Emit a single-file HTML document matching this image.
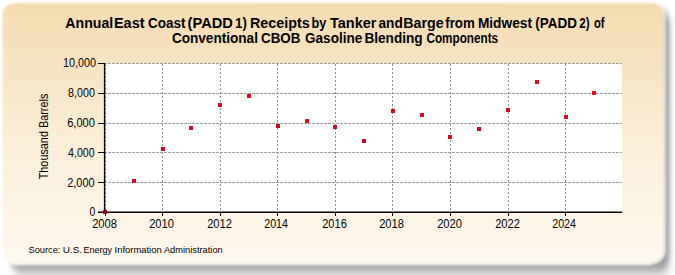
<!DOCTYPE html>
<html><head><meta charset="utf-8"><style>
html,body{margin:0;padding:0;background:#fff;width:675px;height:275px;overflow:hidden}
svg{display:block}
text{font-family:"Liberation Sans",sans-serif;fill:#000}
.g{stroke:#9c9c9c;stroke-width:1;stroke-dasharray:3 1;fill:none}
.gv{stroke:#8c8c8c;stroke-width:1;stroke-dasharray:2 2;fill:none}
.ax{stroke:#000}
.tk{stroke:#000;stroke-width:1}
.pt{fill:#d40a1e}
.title{fill:#000}
.src{fill:#000}
.yl,.xl{fill:#000}
</style></head><body>
<svg width="675" height="275" viewBox="0 0 675 275">
<defs>
<linearGradient id="bg" x1="0" y1="0" x2="0" y2="1">
<stop offset="0" stop-color="#f5dbb0"/>
<stop offset="0.373" stop-color="#f8e8cb"/>
<stop offset="0.566" stop-color="#fbefd9"/>
<stop offset="0.913" stop-color="#fef6ea"/>
<stop offset="1" stop-color="#fef8ee"/>
</linearGradient>
<filter id="sa" filterUnits="userSpaceOnUse" x="0" y="0" width="675" height="275"><feGaussianBlur stdDeviation="2.5 4"/></filter>
<filter id="sb" filterUnits="userSpaceOnUse" x="0" y="0" width="675" height="275"><feGaussianBlur stdDeviation="3"/></filter>
<filter id="gl" filterUnits="userSpaceOnUse" x="0" y="0" width="675" height="275"><feGaussianBlur stdDeviation="1.5"/></filter>
<filter id="bb" filterUnits="userSpaceOnUse" x="0" y="0" width="675" height="275"><feGaussianBlur stdDeviation="1.1"/></filter>
</defs>
<rect x="12" y="16" width="658" height="262" rx="12" fill="#e2e2e2" filter="url(#sb)"/>
<rect x="11" y="9" width="658" height="261" rx="12" fill="#989898" filter="url(#sa)"/>
<rect x="3" y="3.5" width="661" height="259" rx="12" fill="none" stroke="#fff" stroke-width="2.5" filter="url(#gl)"/>
<rect x="12" y="260.5" width="640" height="4.5" fill="#fff" opacity="0.8" filter="url(#gl)"/>
<rect x="2.5" y="3.2" width="661.5" height="259.3" rx="12" fill="url(#bg)" filter="url(#bb)"/>
<rect x="105" y="63" width="517" height="149" fill="#fff"/>
<text x="0" y="0" font-size="12" text-anchor="middle" textLength="85.6" lengthAdjust="spacingAndGlyphs" transform="translate(48,136.5) rotate(-90)">Thousand Barrels</text>
<line x1="104" y1="63.5" x2="622" y2="63.5" class="g"/>
<line x1="104" y1="93.5" x2="622" y2="93.5" class="g"/>
<line x1="104" y1="123.5" x2="622" y2="123.5" class="g"/>
<line x1="104" y1="152.5" x2="622" y2="152.5" class="g"/>
<line x1="104" y1="182.5" x2="622" y2="182.5" class="g"/>
<line x1="105.5" y1="64" x2="105.5" y2="212" class="gv"/>
<line x1="162.5" y1="64" x2="162.5" y2="212" class="gv"/>
<line x1="220.5" y1="64" x2="220.5" y2="212" class="gv"/>
<line x1="277.5" y1="64" x2="277.5" y2="212" class="gv"/>
<line x1="335.5" y1="64" x2="335.5" y2="212" class="gv"/>
<line x1="392.5" y1="64" x2="392.5" y2="212" class="gv"/>
<line x1="450.5" y1="64" x2="450.5" y2="212" class="gv"/>
<line x1="508.5" y1="64" x2="508.5" y2="212" class="gv"/>
<line x1="565.5" y1="64" x2="565.5" y2="212" class="gv"/>
<rect x="103" y="210" width="4" height="4" class="pt"/>
<rect x="132" y="179" width="4" height="4" class="pt"/>
<rect x="161" y="147" width="4" height="4" class="pt"/>
<rect x="189" y="126" width="4" height="4" class="pt"/>
<rect x="218" y="103" width="4" height="4" class="pt"/>
<rect x="247" y="94" width="4" height="4" class="pt"/>
<rect x="276" y="124" width="4" height="4" class="pt"/>
<rect x="305" y="119" width="4" height="4" class="pt"/>
<rect x="333" y="125" width="4" height="4" class="pt"/>
<rect x="362" y="139" width="4" height="4" class="pt"/>
<rect x="391" y="109" width="4" height="4" class="pt"/>
<rect x="420" y="113" width="4" height="4" class="pt"/>
<rect x="448" y="135" width="4" height="4" class="pt"/>
<rect x="477" y="127" width="4" height="4" class="pt"/>
<rect x="506" y="108" width="4" height="4" class="pt"/>
<rect x="535" y="80" width="4" height="4" class="pt"/>
<rect x="564" y="115" width="4" height="4" class="pt"/>
<rect x="592" y="91" width="4" height="4" class="pt"/>
<line x1="104.6" y1="63" x2="104.6" y2="213" class="ax" stroke-width="1.4"/>
<line x1="104" y1="212.2" x2="622" y2="212.2" class="ax" stroke-width="1.5"/>
<line x1="98" y1="63.5" x2="104" y2="63.5" class="tk"/>
<line x1="98" y1="93.5" x2="104" y2="93.5" class="tk"/>
<line x1="98" y1="123.5" x2="104" y2="123.5" class="tk"/>
<line x1="98" y1="152.5" x2="104" y2="152.5" class="tk"/>
<line x1="98" y1="182.5" x2="104" y2="182.5" class="tk"/>
<line x1="98" y1="212.2" x2="104" y2="212.2" class="tk" style="stroke-width:1.5"/>
<line x1="105.5" y1="212" x2="105.5" y2="216" class="tk"/>
<line x1="162.5" y1="212" x2="162.5" y2="216" class="tk"/>
<line x1="220.5" y1="212" x2="220.5" y2="216" class="tk"/>
<line x1="277.5" y1="212" x2="277.5" y2="216" class="tk"/>
<line x1="335.5" y1="212" x2="335.5" y2="216" class="tk"/>
<line x1="392.5" y1="212" x2="392.5" y2="216" class="tk"/>
<line x1="450.5" y1="212" x2="450.5" y2="216" class="tk"/>
<line x1="508.5" y1="212" x2="508.5" y2="216" class="tk"/>
<line x1="565.5" y1="212" x2="565.5" y2="216" class="tk"/>
<rect x="103" y="210" width="4" height="4" fill="#7c1020"/>
<text x="65.3" y="28" font-size="13.5" font-weight="bold" textLength="47.89" lengthAdjust="spacingAndGlyphs" class="title" transform="matrix(1 0 0 1.06 0 -1.680)">Annual</text>
<text x="113.93" y="28" font-size="13.5" font-weight="bold" textLength="30.64" lengthAdjust="spacingAndGlyphs" class="title" transform="matrix(1 0 0 1.06 0 -1.680)">East</text>
<text x="148.0" y="28" font-size="13.5" font-weight="bold" textLength="37.41" lengthAdjust="spacingAndGlyphs" class="title" transform="matrix(1 0 0 1.06 0 -1.680)">Coast</text>
<text x="187.61" y="28" font-size="13.5" font-weight="bold" textLength="45.3" lengthAdjust="spacingAndGlyphs" class="title" transform="matrix(1 0 0 1.06 0 -1.680)">(PADD</text>
<text x="235.02" y="28" font-size="13.5" font-weight="bold" textLength="11.8" lengthAdjust="spacingAndGlyphs" class="title" transform="matrix(1 0 0 1.06 0 -1.680)">1)</text>
<text x="249.94" y="28" font-size="13.5" font-weight="bold" textLength="59.76" lengthAdjust="spacingAndGlyphs" class="title" transform="matrix(1 0 0 1.06 0 -1.680)">Receipts</text>
<text x="311.56" y="28" font-size="13.5" font-weight="bold" textLength="14.82" lengthAdjust="spacingAndGlyphs" class="title" transform="matrix(1 0 0 1.06 0 -1.680)">by</text>
<text x="330.0" y="28" font-size="13.5" font-weight="bold" textLength="46.4" lengthAdjust="spacingAndGlyphs" class="title" transform="matrix(1 0 0 1.06 0 -1.680)">Tanker</text>
<text x="378.5" y="28" font-size="13.5" font-weight="bold" textLength="24.22" lengthAdjust="spacingAndGlyphs" class="title" transform="matrix(1 0 0 1.06 0 -1.680)">and</text>
<text x="403.24" y="28" font-size="13.5" font-weight="bold" textLength="40.44" lengthAdjust="spacingAndGlyphs" class="title" transform="matrix(1 0 0 1.06 0 -1.680)">Barge</text>
<text x="445.2" y="28" font-size="13.5" font-weight="bold" textLength="29.59" lengthAdjust="spacingAndGlyphs" class="title" transform="matrix(1 0 0 1.06 0 -1.680)">from</text>
<text x="477.88" y="28" font-size="13.5" font-weight="bold" textLength="54.09" lengthAdjust="spacingAndGlyphs" class="title" transform="matrix(1 0 0 1.06 0 -1.680)">Midwest</text>
<text x="535.2" y="28" font-size="13.5" font-weight="bold" textLength="41.75" lengthAdjust="spacingAndGlyphs" class="title" transform="matrix(1 0 0 1.06 0 -1.680)">(PADD</text>
<text x="579.2" y="28" font-size="13.5" font-weight="bold" textLength="10.31" lengthAdjust="spacingAndGlyphs" class="title" transform="matrix(1 0 0 1.06 0 -1.680)">2)</text>
<text x="594.0" y="28" font-size="13.5" font-weight="bold" textLength="10.59" lengthAdjust="spacingAndGlyphs" class="title" transform="matrix(1 0 0 1.06 0 -1.680)">of</text>
<text x="171.9" y="43" font-size="13.5" font-weight="bold" textLength="86.02" lengthAdjust="spacingAndGlyphs" class="title" transform="matrix(1 0 0 1.06 0 -2.580)">Conventional</text>
<text x="261.0" y="43" font-size="13.5" font-weight="bold" textLength="39.44" lengthAdjust="spacingAndGlyphs" class="title" transform="matrix(1 0 0 1.06 0 -2.580)">CBOB</text>
<text x="305.0" y="43" font-size="13.5" font-weight="bold" textLength="57.33" lengthAdjust="spacingAndGlyphs" class="title" transform="matrix(1 0 0 1.06 0 -2.580)">Gasoline</text>
<text x="364.39" y="43" font-size="13.5" font-weight="bold" textLength="58.27" lengthAdjust="spacingAndGlyphs" class="title" transform="matrix(1 0 0 1.06 0 -2.580)">Blending</text>
<text x="426.5" y="43" font-size="13.5" font-weight="bold" textLength="71.63" lengthAdjust="spacingAndGlyphs" class="title" transform="matrix(1 0 0 1.06 0 -2.580)">Components</text>
<text x="28.45" y="253" font-size="9.8" font-weight="normal" textLength="31.97" lengthAdjust="spacingAndGlyphs" class="src">Source:</text>
<text x="62.68" y="253" font-size="9.8" font-weight="normal" textLength="19.4" lengthAdjust="spacingAndGlyphs" class="src">U.S.</text>
<text x="83.48" y="253" font-size="9.8" font-weight="normal" textLength="28.56" lengthAdjust="spacingAndGlyphs" class="src">Energy</text>
<text x="114.54" y="253" font-size="9.8" font-weight="normal" textLength="47.18" lengthAdjust="spacingAndGlyphs" class="src">Information</text>
<text x="163.9" y="253" font-size="9.8" font-weight="normal" textLength="58.87" lengthAdjust="spacingAndGlyphs" class="src">Administration</text>
<text x="63.0" y="67" font-size="12" font-weight="normal" textLength="33.03" lengthAdjust="spacingAndGlyphs" class="yl">10,000</text>
<text x="68.1" y="97" font-size="12" font-weight="normal" textLength="26.73" lengthAdjust="spacingAndGlyphs" class="yl">8,000</text>
<text x="67.18" y="127" font-size="12" font-weight="normal" textLength="27.65" lengthAdjust="spacingAndGlyphs" class="yl">6,000</text>
<text x="68.1" y="156.6" font-size="12" font-weight="normal" textLength="26.53" lengthAdjust="spacingAndGlyphs" class="yl">4,000</text>
<text x="67.19" y="186.5" font-size="12" font-weight="normal" textLength="27.44" lengthAdjust="spacingAndGlyphs" class="yl">2,000</text>
<text x="89.4" y="216" font-size="12" font-weight="normal" textLength="5.8" lengthAdjust="spacingAndGlyphs" class="yl">0</text>
<text x="92.17" y="227.6" font-size="12" font-weight="normal" textLength="24.78" lengthAdjust="spacingAndGlyphs" class="xl">2008</text>
<text x="149.17" y="227.6" font-size="12" font-weight="normal" textLength="24.78" lengthAdjust="spacingAndGlyphs" class="xl">2010</text>
<text x="207.17" y="227.6" font-size="12" font-weight="normal" textLength="24.78" lengthAdjust="spacingAndGlyphs" class="xl">2012</text>
<text x="264.21" y="227.6" font-size="12" font-weight="normal" textLength="23.83" lengthAdjust="spacingAndGlyphs" class="xl">2014</text>
<text x="322.17" y="227.6" font-size="12" font-weight="normal" textLength="24.78" lengthAdjust="spacingAndGlyphs" class="xl">2016</text>
<text x="379.17" y="227.6" font-size="12" font-weight="normal" textLength="24.78" lengthAdjust="spacingAndGlyphs" class="xl">2018</text>
<text x="437.17" y="227.6" font-size="12" font-weight="normal" textLength="24.78" lengthAdjust="spacingAndGlyphs" class="xl">2020</text>
<text x="495.17" y="227.6" font-size="12" font-weight="normal" textLength="24.78" lengthAdjust="spacingAndGlyphs" class="xl">2022</text>
<text x="552.21" y="227.6" font-size="12" font-weight="normal" textLength="23.83" lengthAdjust="spacingAndGlyphs" class="xl">2024</text>
</svg>
</body></html>
